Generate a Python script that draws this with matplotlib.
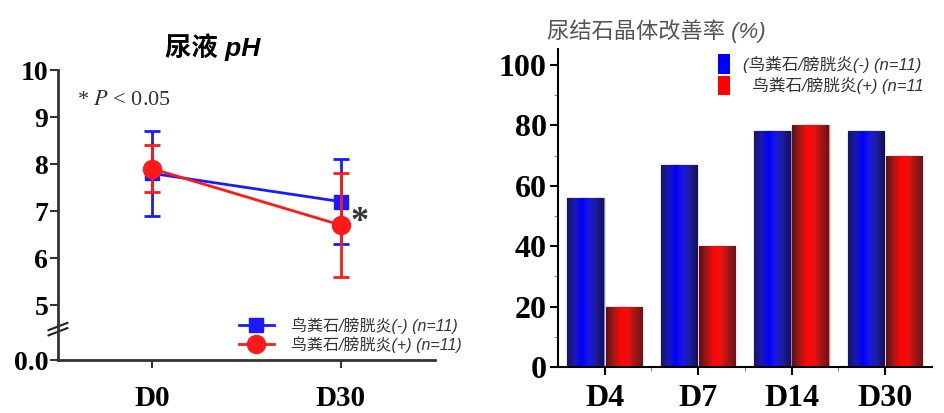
import numpy as np
import matplotlib
matplotlib.use("Agg")
import matplotlib.pyplot as plt
from matplotlib.colors import LinearSegmentedColormap
from matplotlib.lines import Line2D
from matplotlib.patches import Patch

plt.rcParams['font.family'] = ['Liberation Serif', 'Noto Sans CJK SC']
plt.rcParams['mathtext.fontset'] = 'stix'

# --- data: urine pH ---
ph_days = ['D0', 'D30']
ph_neg = [7.8, 7.2]
ph_neg_err = [0.9, 0.9]
ph_pos = [7.9, 6.7]
ph_pos_err = [0.5, 1.1]
ph_ticks = [5, 6, 7, 8, 9, 10]
ph_zero_pos = 3.83   # where the "0.0" label sits below the axis break

# --- data: crystal improvement rate ---
rate_days = ['D4', 'D7', 'D14', 'D30']
rate_neg = [56, 67, 78, 78]
rate_pos = [20, 40, 80, 70]

label_neg = '鸟粪石/膀胱炎(-) (n=11)'
label_pos = '鸟粪石/膀胱炎(+) (n=11)'
cjk_sans = ['Liberation Sans', 'Noto Sans CJK SC']
blue = '#1a1aff'
red = '#ff1a1a'

fig = plt.figure(figsize=(9.44, 4.13), dpi=100)

# ---------------- left panel ----------------
ax1 = fig.add_axes([0.0614, 0.1283, 0.3994, 0.7022])
x = np.arange(len(ph_days))
ax1.errorbar(x, ph_neg, yerr=ph_neg_err, color=blue, marker='s', ms=10,
             lw=2, capsize=6, capthick=2, elinewidth=2, zorder=3)
ax1.errorbar(x, ph_pos, yerr=ph_pos_err, color=red, marker='o', ms=13,
             lw=2, capsize=6, capthick=2, elinewidth=2, zorder=4)
ax1.set_xlim(-0.5, 1.5)
ax1.set_ylim(ph_zero_pos, 10)
ax1.set_yticks([ph_zero_pos] + ph_ticks)
ax1.set_yticklabels(['0.0'] + [str(t) for t in ph_ticks])
ax1.set_xticks(x)
ax1.set_xticklabels(ph_days)
for lab in ax1.get_yticklabels():
    lab.set_fontweight('bold')
    lab.set_fontsize(20)
for lab in ax1.get_xticklabels():
    lab.set_fontweight('bold')
    lab.set_fontsize(21)
ax1.tick_params(axis='both', length=6, width=1.5, color='#333333', pad=1)
ax1.tick_params(axis='x', pad=12)
for s in ['top', 'right']:
    ax1.spines[s].set_visible(False)
for s in ['left', 'bottom']:
    ax1.spines[s].set_linewidth(2)
    ax1.spines[s].set_color('#333333')

# axis break marks
for dy in (0.0, 0.018):
    ax1.plot([-0.025, 0.025], [0.085 + dy, 0.11 + dy], transform=ax1.transAxes,
             color='#222222', lw=1.5, clip_on=False)

ax1.set_title('尿液 pH', fontsize=19, fontweight='bold', style='italic',
              family=cjk_sans, pad=10, x=0.41)
ax1.text(0.05, 0.895, '* $P$ < 0.05', transform=ax1.transAxes, fontsize=16,
         color='#333333', va='center')
ax1.text(1.05, ph_pos[1] + 0.05, '*', fontsize=26, fontweight='bold',
         color='#333333', ha='left', va='center')

h1 = [Line2D([], [], color=blue, marker='s', ms=10, lw=2),
      Line2D([], [], color=red, marker='o', ms=13, lw=2)]
leg1 = ax1.legend(h1, [label_neg, label_pos], loc='lower right',
                  bbox_to_anchor=(1.11, -0.025), frameon=False,
                  handlelength=2.2, handletextpad=1.1, labelspacing=0.15,
                  prop={'family': cjk_sans, 'style': 'italic', 'size': 11.5})
for t in leg1.get_texts():
    t.set_color('#333333')

# ---------------- right panel ----------------
ax2 = fig.add_axes([0.591, 0.1114, 0.396, 0.770])
xr = np.arange(len(rate_days))
w = 0.39
bars_neg = ax2.bar(xr - w / 2 - 0.01, rate_neg, w, color='none', edgecolor='#7a7aff', lw=1)
bars_pos = ax2.bar(xr + w / 2 + 0.01, rate_pos, w, color='none', edgecolor='#ff7a7a', lw=1)

cmap_blue = LinearSegmentedColormap.from_list(
    'b', ['#141466', '#1a1ab0', '#0000ff', '#1a1ae0', '#1c1c99', '#101050'])
cmap_red = LinearSegmentedColormap.from_list(
    'r', ['#5a1010', '#a01818', '#ff0505', '#ee1010', '#a01818', '#6a1515'])
grad = np.linspace(0, 1, 256).reshape(1, -1)
for bars, cm in ((bars_neg, cmap_blue), (bars_pos, cmap_red)):
    for b in bars:
        x0, y0 = b.get_x(), b.get_y()
        im = ax2.imshow(grad, extent=[x0, x0 + b.get_width(), y0, y0 + b.get_height()],
                        aspect='auto', cmap=cm, zorder=1.5, interpolation='bicubic')
        im.set_clip_path(b)

ax2.set_xlim(-0.5, 3.5)
ax2.set_ylim(0, 105.3)
ax2.set_yticks([0, 20, 40, 60, 80, 100])
ax2.set_yticks(np.arange(10, 100, 20), minor=True)
ax2.set_xticks(xr)
ax2.set_xticks(xr[:-1] + 0.5, minor=True)
ax2.set_xticklabels(rate_days)
for lab in ax2.get_yticklabels() + ax2.get_xticklabels():
    lab.set_fontweight('bold')
    lab.set_fontsize(23)
ax2.tick_params(axis='both', which='major', length=6, width=1.5, pad=2)
ax2.tick_params(axis='both', which='minor', length=3, width=0.8, color='#888888')
ax2.tick_params(axis='x', pad=6)
for s in ['top', 'right']:
    ax2.spines[s].set_visible(False)
for s in ['left', 'bottom']:
    ax2.spines[s].set_linewidth(1.5)

ax2.text(-0.03, 1.055, '尿结石晶体改善率 (%)', transform=ax2.transAxes, fontsize=16,
         style='italic', family=cjk_sans, color='#555555', va='center')

handles = [Patch(facecolor='#0000ff'), Patch(facecolor='#ff0000')]
leg2 = ax2.legend(handles, ['(' + label_neg, '  ' + label_pos.rstrip(')')],
                  loc='upper right', bbox_to_anchor=(1.02, 1.03), frameon=False,
                  handlelength=0.7, handleheight=1.4, handletextpad=0.8,
                  labelspacing=0.15,
                  prop={'family': cjk_sans, 'style': 'italic', 'size': 12})
for t in leg2.get_texts():
    t.set_color('#333333')

fig.savefig('out.png', dpi=100)
